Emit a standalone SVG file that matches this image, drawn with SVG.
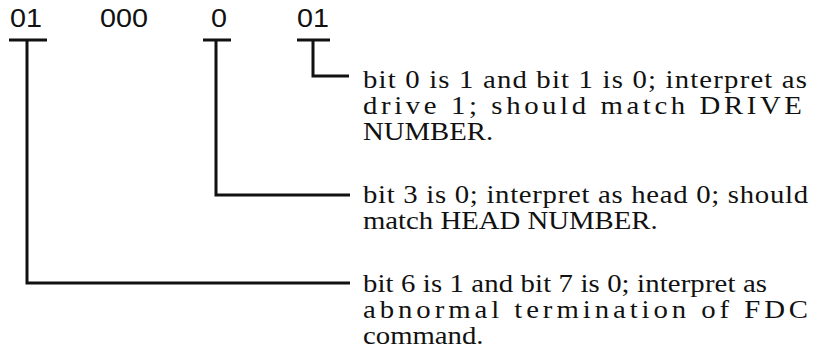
<svg xmlns="http://www.w3.org/2000/svg" width="814" height="356" viewBox="0 0 814 356">
<style>
.bits{font-family:"Liberation Sans",Arial,sans-serif;font-size:25px;fill:#111}
.t{font-family:"Liberation Serif","Times New Roman",serif;font-size:25px;fill:#111}
.c{fill:none;stroke:#111;stroke-width:3}
</style>
<rect width="814" height="356" fill="#fff"/>
<g id="bits">
<text class="bits" transform="translate(10,27) scale(1.15,1)">01</text>
<text class="bits" transform="translate(100,27) scale(1.15,1)">000</text>
<text class="bits" transform="translate(211,27) scale(1.15,1)">0</text>
<text class="bits" transform="translate(297,27) scale(1.15,1)">01</text>
</g>
<g id="connectors">
<path class="c" d="M9 40H47M27 40V283H350"/>
<path class="c" d="M203 40H231M216 40V195H350"/>
<path class="c" d="M297 40H330M313 40V76H349"/>
</g>
<g id="note-drive">
<text class="t" transform="translate(363,88) scale(1.15,1)" textLength="386.1" lengthAdjust="spacing">bit 0 is 1 and bit 1 is 0; interpret as</text>
<text class="t" transform="translate(363,114) scale(1.15,1)" textLength="381.7" lengthAdjust="spacing">drive 1; should match DRIVE</text>
<text class="t" transform="translate(363,140) scale(1.15,1)">NUMBER.</text>
</g>
<g id="note-head">
<text class="t" transform="translate(363,203) scale(1.15,1)" textLength="387" lengthAdjust="spacing">bit 3 is 0; interpret as head 0; should</text>
<text class="t" transform="translate(363,229) scale(1.15,1)">match HEAD NUMBER.</text>
</g>
<g id="note-status">
<text class="t" transform="translate(363,292) scale(1.15,1)" textLength="351.3" lengthAdjust="spacing">bit 6 is 1 and bit 7 is 0; interpret as</text>
<text class="t" transform="translate(363,318) scale(1.15,1)" textLength="387" lengthAdjust="spacing">abnormal termination of FDC</text>
<text class="t" transform="translate(363,344) scale(1.15,1)">command.</text>
</g>
</svg>
